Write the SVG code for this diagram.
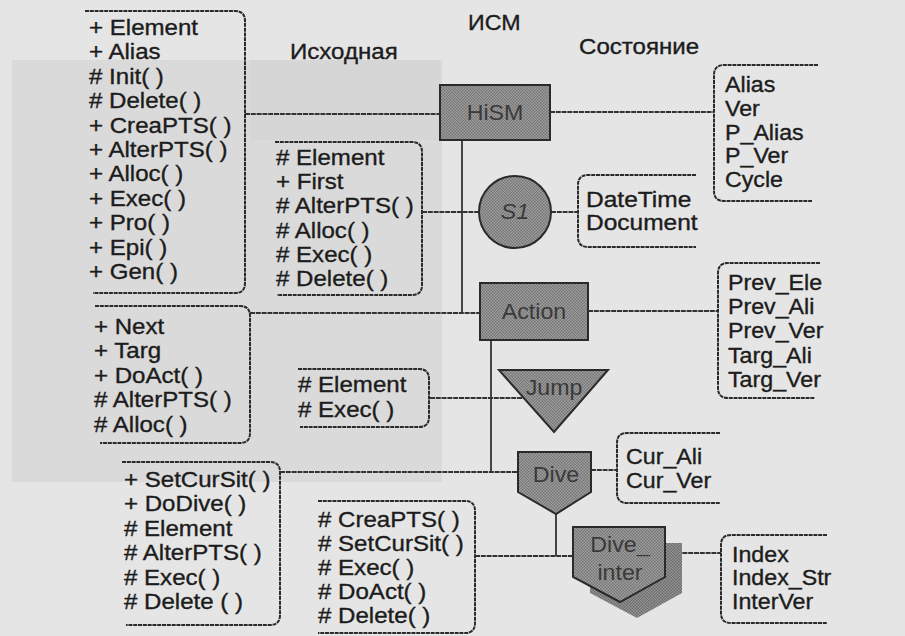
<svg xmlns="http://www.w3.org/2000/svg" width="905" height="636" viewBox="0 0 905 636">
<defs>
<pattern id="hatch" width="3" height="3" patternUnits="userSpaceOnUse"><rect width="3" height="3" fill="#a0a0a0"/><rect width="1.5" height="1.5" fill="#747474"/><rect x="1.5" y="1.5" width="1.5" height="1.5" fill="#747474"/></pattern>
<pattern id="hatchDark" width="3" height="3" patternUnits="userSpaceOnUse"><rect width="3" height="3" fill="#969696"/><rect width="1.5" height="1.5" fill="#6a6a6a"/><rect x="1.5" y="1.5" width="1.5" height="1.5" fill="#6a6a6a"/></pattern>
<style>
.bg{fill:#e5e5e5}
.br{fill:none;stroke:#2a2a2a;stroke-width:2;stroke-dasharray:4 0.8}
.cn{fill:none;stroke:#333;stroke-width:1.8}
.cd{fill:none;stroke:#333;stroke-width:1.8;stroke-dasharray:5 0.8}
.nd{fill:url(#hatch);stroke:#2a2a2a;stroke-width:2}
.sh{fill:url(#hatchDark);stroke:none}
.t{font-family:"Liberation Sans",Arial,sans-serif;font-size:21.5px;fill:#1c1c1c;stroke:#1c1c1c;stroke-width:0.35}
.nl{font-family:"Liberation Sans",Arial,sans-serif;font-size:21.5px;fill:#3a3a3a;text-anchor:middle}
</style>
</defs>
<rect class="bg" x="0" y="0" width="905" height="636"/>
<rect x="12" y="60" width="430" height="422" fill="#dadada"/>
<rect x="250" y="60" width="190" height="80" fill="#d6d6d6"/>

<g id="connectors">
<line class="cd" x1="245" y1="114" x2="440" y2="114"/>
<line class="cd" x1="550" y1="112" x2="714" y2="112"/>
<line class="cn" x1="462" y1="140" x2="462" y2="313"/>
<line class="cd" x1="422" y1="212" x2="479" y2="212"/>
<line class="cd" x1="551" y1="212" x2="578" y2="212"/>
<line class="cd" x1="250" y1="313" x2="480" y2="313"/>
<line class="cd" x1="588" y1="311" x2="718" y2="311"/>
<line class="cn" x1="491" y1="340" x2="491" y2="472"/>
<line class="cd" x1="430" y1="398" x2="524" y2="398"/>
<line class="cd" x1="280" y1="472" x2="518" y2="472"/>
<line class="cd" x1="591" y1="470" x2="617" y2="470"/>
<line class="cn" x1="556" y1="514" x2="556" y2="556"/>
<line class="cd" x1="475" y1="556" x2="573" y2="556"/>
<line class="cd" x1="665" y1="553" x2="721" y2="553"/>
</g>

<g id="title">
<text class="t" transform="translate(468,30) scale(1.08,1)">ИСМ</text>
<text class="t" transform="translate(290,59) scale(1.12,1)">Исходная</text>
<text class="t" transform="translate(579,54) scale(1.12,1)">Состояние</text>
</g>

<g id="class-element">
<path class="br" d="M85,11 H235 Q245,11 245,21 V283 Q245,293 235,293 H93"/>
<text class="t" transform="translate(89,35) scale(1.12,1)"><tspan x="0">+ Element</tspan><tspan x="0" dy="24.4">+ Alias</tspan><tspan x="0" dy="24.4"># Init( )</tspan><tspan x="0" dy="24.4"># Delete( )</tspan><tspan x="0" dy="24.4">+ CreaPTS( )</tspan><tspan x="0" dy="24.4">+ AlterPTS( )</tspan><tspan x="0" dy="24.4">+ Alloc( )</tspan><tspan x="0" dy="24.4">+ Exec( )</tspan><tspan x="0" dy="24.4">+ Pro( )</tspan><tspan x="0" dy="24.4">+ Epi( )</tspan><tspan x="0" dy="24.4">+ Gen( )</tspan></text>
</g>

<g id="class-s1">
<path class="br" d="M275,142 H412 Q422,142 422,152 V285 Q422,295 412,295 H277"/>
<text class="t" transform="translate(276,165) scale(1.12,1)"><tspan x="0"># Element</tspan><tspan x="0" dy="24.2">+ First</tspan><tspan x="0" dy="24.2"># AlterPTS( )</tspan><tspan x="0" dy="24.2"># Alloc( )</tspan><tspan x="0" dy="24.2"># Exec( )</tspan><tspan x="0" dy="24.2"># Delete( )</tspan></text>
</g>

<g id="class-action">
<path class="br" d="M95,306 H240 Q250,306 250,316 V433 Q250,443 240,443 H100"/>
<text class="t" transform="translate(94,334) scale(1.12,1)"><tspan x="0">+ Next</tspan><tspan x="0" dy="24.4">+ Targ</tspan><tspan x="0" dy="24.4">+ DoAct( )</tspan><tspan x="0" dy="24.4"># AlterPTS( )</tspan><tspan x="0" dy="24.4"># Alloc( )</tspan></text>
</g>

<g id="class-jump">
<path class="br" d="M298,369 H419 Q429,369 429,379 V417 Q429,427 419,427 H300"/>
<text class="t" transform="translate(298,392) scale(1.12,1)"><tspan x="0"># Element</tspan><tspan x="0" dy="24.6"># Exec( )</tspan></text>
</g>

<g id="class-dive">
<path class="br" d="M122,462 H270 Q280,462 280,472 V615 Q280,625 270,625 H126"/>
<text class="t" transform="translate(124,487) scale(1.12,1)"><tspan x="0">+ SetCurSit( )</tspan><tspan x="0" dy="24.4">+ DoDive( )</tspan><tspan x="0" dy="24.4"># Element</tspan><tspan x="0" dy="24.4"># AlterPTS( )</tspan><tspan x="0" dy="24.4"># Exec( )</tspan><tspan x="0" dy="24.4"># Delete ( )</tspan></text>
</g>

<g id="class-diveinter">
<path class="br" d="M318,501 H465 Q475,501 475,511 V623 Q475,633 465,633 H318"/>
<text class="t" transform="translate(318,527) scale(1.12,1)"><tspan x="0"># CreaPTS( )</tspan><tspan x="0" dy="24"># SetCurSit( )</tspan><tspan x="0" dy="24"># Exec( )</tspan><tspan x="0" dy="24"># DoAct( )</tspan><tspan x="0" dy="24"># Delete( )</tspan></text>
</g>

<g id="state-hism">
<path class="br" d="M818,65 H724 Q714,65 714,75 V191 Q714,201 724,201 H812"/>
<text class="t" transform="translate(725,92) scale(1.08,1)"><tspan x="0">Alias</tspan><tspan x="0" dy="23.8">Ver</tspan><tspan x="0" dy="23.8">P_Alias</tspan><tspan x="0" dy="23.8">P_Ver</tspan><tspan x="0" dy="23.8">Cycle</tspan></text>
</g>

<g id="state-s1">
<path class="br" d="M696,175 H588 Q578,175 578,185 V237 Q578,247 588,247 H696"/>
<text class="t" transform="translate(586,207) scale(1.14,1)"><tspan x="0">DateTime</tspan><tspan x="0" dy="23.4">Document</tspan></text>
</g>

<g id="state-action">
<path class="br" d="M820,263 H728 Q718,263 718,273 V388 Q718,398 728,398 H815"/>
<text class="t" transform="translate(728,290) scale(1.08,1)"><tspan x="0">Prev_Ele</tspan><tspan x="0" dy="24.2">Prev_Ali</tspan><tspan x="0" dy="24.2">Prev_Ver</tspan><tspan x="0" dy="24.2">Targ_Ali</tspan><tspan x="0" dy="24.2">Targ_Ver</tspan></text>
</g>

<g id="state-dive">
<path class="br" d="M720,433 H627 Q617,433 617,443 V493 Q617,503 627,503 H720"/>
<text class="t" transform="translate(626,464) scale(1.08,1)"><tspan x="0">Cur_Ali</tspan><tspan x="0" dy="24">Cur_Ver</tspan></text>
</g>

<g id="state-diveinter">
<path class="br" d="M827,535 H731 Q721,535 721,545 V613 Q721,623 731,623 H827"/>
<text class="t" transform="translate(732,562) scale(1.08,1)"><tspan x="0">Index</tspan><tspan x="0" dy="23.5">Index_Str</tspan><tspan x="0" dy="23.5">InterVer</tspan></text>
</g>

<g id="node-hism">
<rect class="nd" x="440" y="85" width="110" height="55"/>
<text class="nl" transform="translate(495,120) scale(1.08,1)">HiSM</text>
</g>

<g id="node-s1">
<circle class="nd" cx="515" cy="212" r="36"/>
<text class="nl" font-style="italic" transform="translate(515,219) scale(1.08,1)">S1</text>
</g>

<g id="node-action">
<rect class="nd" x="480" y="283" width="108" height="57"/>
<text class="nl" transform="translate(534,319) scale(1.08,1)">Action</text>
</g>

<g id="node-jump">
<polygon class="nd" points="499,370 608,370 554,432"/>
<text class="nl" transform="translate(554,395) scale(1.08,1)">Jump</text>
</g>

<g id="node-dive">
<polygon class="nd" points="518,452 591,452 591,492 556,514 518,492"/>
<text class="nl" transform="translate(556,482) scale(1.08,1)">Dive</text>
</g>

<g id="node-diveinter">
<polygon class="sh" points="590,543 682,543 682,593 637,618 590,593"/>
<polygon class="nd" points="573,527 665,527 665,577 620,602 573,577"/>
<text class="nl" transform="translate(620,552) scale(1.08,1)">Dive_</text>
<text class="nl" transform="translate(620,580) scale(1.08,1)">inter</text>
</g>
</svg>
